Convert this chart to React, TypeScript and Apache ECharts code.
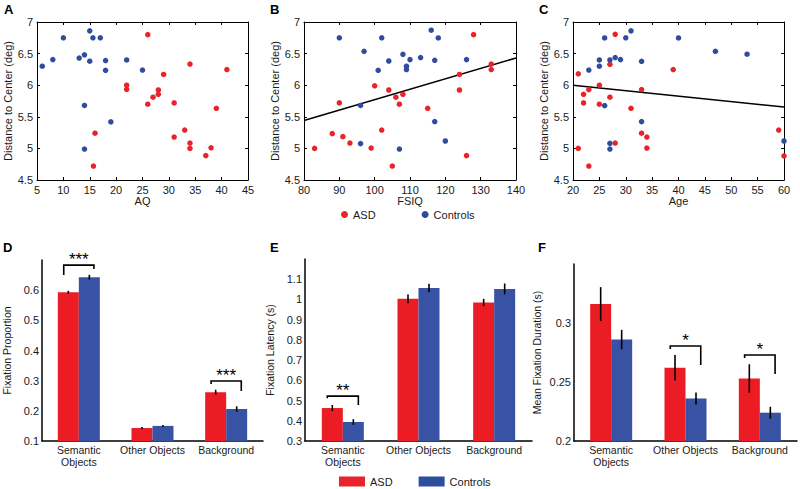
import React, { useEffect, useRef } from 'react';
import * as echarts from 'echarts';

// ---------- Data ----------
// Panel A: AQ vs distance to center
const aqAsd = [[22,6.0],[22,5.935],[16,5.24],[15.7,4.72],[26,6.80],[34,6.335],[41,6.247],[29,6.17],[28,5.925],[28,5.856],[27,5.81],[26,5.70],[31,5.72],[39,5.635],[33,5.29],[31,5.18],[34,5.085],[34,5.0],[38,5.01],[37,4.886]];
const aqCtrl = [[6,6.30],[8,6.405],[10,6.75],[15,6.86],[15.6,6.75],[17,6.75],[13,6.43],[14,6.48],[15,6.38],[18,6.39],[18,6.235],[22,6.40],[25,6.24],[14,5.68],[19,5.42],[14,4.99]];
// Panel B: FSIQ
const fsiqAsd = [[100,5.99],[104,5.924],[106,5.81],[107,5.70],[108,5.856],[90,5.72],[88,5.234],[91,5.186],[93,5.085],[102,5.29],[99,5.006],[83,5.0],[105,4.72],[128,6.80],[133,6.335],[133,6.247],[124,6.17],[124,5.924],[115,5.635],[126,4.886]];
const fsiqCtrl = [[90,6.75],[102,6.75],[97,6.536],[104,6.383],[101,6.236],[108,6.489],[110,6.405],[109,6.30],[109,6.247],[96,5.68],[96,5.076],[107,4.99],[116,6.87],[118,6.747],[113,6.437],[117,6.394],[126,6.405],[117,5.424],[120,5.117]];
const fsiqFit = [[80,5.44],[140,6.43]];
// Panel C: Age
const ageAsd = [[28,6.805],[27,6.33],[21,6.18],[39,6.247],[25,6.0],[23,5.93],[33,5.93],[22,5.856],[27,5.81],[22,5.72],[25,5.70],[31,5.635],[33,5.24],[34,5.18],[28,5.085],[34,5.006],[21,5.0],[23,4.72],[59,5.29],[60,4.88]];
const ageCtrl = [[26,6.747],[30,6.75],[31,6.86],[25,6.40],[25,6.30],[27,6.40],[28,6.437],[29,6.405],[33,6.378],[23,6.24],[26,5.677],[33,5.424],[27,5.08],[27,4.99],[40,6.747],[47,6.536],[53,6.49],[60,5.117]];
const ageFit = [[20,6.0],[60,5.655]];

// Bar panels
const categories = ['Semantic\nObjects', 'Other Objects', 'Background'];
const propAsd = [0.593, 0.143, 0.262];
const propAsdErr = [0.005, 0.003, 0.008];
const propCtrl = [0.643, 0.150, 0.206];
const propCtrlErr = [0.008, 0.003, 0.009];
const latAsd = [0.463, 1.003, 0.985];
const latAsdErr = [0.015, 0.022, 0.018];
const latCtrl = [0.394, 1.057, 1.052];
const latCtrlErr = [0.014, 0.021, 0.027];
const durAsd = [0.316, 0.262, 0.253];
const durAsdErr = [0.0144, 0.0108, 0.012];
const durCtrl = [0.286, 0.236, 0.224];
const durCtrlErr = [0.0082, 0.005, 0.005];

// Significance brackets: [category, top, left leg end, right leg end]
const propSig = [[0, 0.683, 0.650, 0.670], [2, 0.299, 0.289, 0.266]];
const propStars = ['***', '***'];
const latSig = [[0, 0.522, 0.512, 0.478]];
const latStars = ['**'];
const durSig = [[1, 0.2805, 0.278, 0.2644], [2, 0.2729, 0.2703, 0.2568]];
const durStars = ['*', '*'];

const RED = '#e8232b';
const BLUE = '#2f4d9f';
const BAR_RED = '#ec1c24';
const BAR_BLUE = '#3953a4';
const FONT = '"Liberation Sans", Arial, Helvetica, sans-serif';
const TXT = '#1a1a1a';
const BAR_W = 21;

export default function App() {
  const ref = useRef<HTMLDivElement>(null);
  useEffect(() => {
    if (!ref.current) return;
    const chart = echarts.init(ref.current, null, { renderer: 'svg' });

    const scatterGrids = [
      { left: 37, top: 22, width: 211, height: 158 },
      { left: 304, top: 22, width: 212, height: 158 },
      { left: 573, top: 22, width: 211, height: 158 },
    ];
    const barGrids = [
      { left: 37, top: 260, width: 226, height: 181 },
      { left: 305, top: 259, width: 227, height: 182 },
      { left: 574, top: 264, width: 223, height: 177 },
    ];
    const xRanges = [[5, 45, 5, 'AQ'], [80, 140, 10, 'FSIQ'], [20, 60, 5, 'Age']] as const;

    const axisLine = { show: true, onZero: false, lineStyle: { color: '#000', width: 1 } };
    const tickIn = { show: true, inside: true, length: 3, lineStyle: { color: '#000' } };
    const lbl = { color: TXT, fontSize: 11, fontFamily: FONT };

    const xAxis: any[] = [];
    const yAxis: any[] = [];
    // scatter bottom / left axes (0..2)
    xRanges.forEach((r, i) => {
      xAxis.push({ type: 'value', gridIndex: i, min: r[0], max: r[1], interval: r[2], position: 'bottom',
        name: r[3], nameLocation: 'middle', nameGap: 15, nameTextStyle: { color: TXT, fontSize: 11, fontFamily: FONT },
        axisLine, axisTick: tickIn, axisLabel: { ...lbl, margin: 4 }, splitLine: { show: false } });
      yAxis.push({ type: 'value', gridIndex: i, min: 4.5, max: 7, interval: 0.5, position: 'left',
        name: 'Distance to Center (deg)', nameLocation: 'middle', nameGap: 23, nameTextStyle: { color: TXT, fontSize: 11, fontFamily: FONT },
        axisLine, axisTick: tickIn, axisLabel: { ...lbl, margin: 4 }, splitLine: { show: false } });
    });
    // scatter top / right axes (3..5)
    xRanges.forEach((r, i) => {
      xAxis.push({ type: 'value', gridIndex: i, min: r[0], max: r[1], interval: r[2], position: 'top',
        axisLine, axisTick: tickIn, axisLabel: { show: false }, splitLine: { show: false } });
      yAxis.push({ type: 'value', gridIndex: i, min: 4.5, max: 7, interval: 0.5, position: 'right',
        axisLine, axisTick: tickIn, axisLabel: { show: false }, splitLine: { show: false } });
    });
    // bar axes (6..8)
    const barY = [
      { min: 0.1, max: 0.7, interval: 0.1, name: 'Fixation Proportion', hide: 0.65, gap: 30 },
      { min: 0.3, max: 1.2, interval: 0.1, name: 'Fixation Latency (s)', hide: 1.15, gap: 30 },
      { min: 0.2, max: 0.35, interval: 0.05, name: 'Mean Fixation Duration (s)', hide: 0.325, gap: 32 },
    ];
    barY.forEach((b, i) => {
      xAxis.push({ type: 'category', gridIndex: 3 + i, data: categories,
        axisLine: { show: true, lineStyle: { color: '#000', width: 1.5 } }, axisTick: { show: false },
        axisLabel: { color: TXT, fontSize: 10.5, fontFamily: FONT, margin: 3, lineHeight: 12, interval: 0 } });
      yAxis.push({ type: 'value', gridIndex: 3 + i, min: b.min, max: b.max, interval: b.interval,
        name: b.name, nameLocation: 'middle', nameGap: b.gap, nameTextStyle: { color: TXT, fontSize: 10.5, fontFamily: FONT },
        axisLine: { show: true, lineStyle: { color: '#000', width: 1.5 } }, axisTick: { show: false },
        axisLabel: { ...lbl, margin: 3, formatter: (v: number) => (v > b.hide ? '' : String(v)) },
        splitLine: { show: false } });
    });

    const scatterSets = [[aqAsd, aqCtrl, null], [fsiqAsd, fsiqCtrl, fsiqFit], [ageAsd, ageCtrl, ageFit]];
    const series: any[] = [];
    scatterSets.forEach((s, i) => {
      series.push({ type: 'scatter', name: 'ASD', xAxisIndex: i, yAxisIndex: i, data: s[0], symbolSize: 5.5,
        itemStyle: { color: RED, opacity: 1 }, clip: false });
      series.push({ type: 'scatter', name: 'Controls', xAxisIndex: i, yAxisIndex: i, data: s[1], symbolSize: 5.5,
        itemStyle: { color: BLUE, opacity: 1 }, clip: false });
      if (s[2]) {
        series.push({ type: 'line', xAxisIndex: i, yAxisIndex: i, data: s[2], symbol: 'none',
          lineStyle: { color: '#000', width: 1.5 }, z: 1 });
      }
    });

    const barSets = [
      [propAsd, propAsdErr, propCtrl, propCtrlErr, propSig, propStars],
      [latAsd, latAsdErr, latCtrl, latCtrlErr, latSig, latStars],
      [durAsd, durAsdErr, durCtrl, durCtrlErr, durSig, durStars],
    ] as any[];
    const errRender = (sign: number) => (params: any, api: any) => {
      const cat = api.value(0);
      const p1 = api.coord([cat, api.value(1)]);
      const p2 = api.coord([cat, api.value(2)]);
      const x = p1[0] + sign * BAR_W / 2;
      return { type: 'line', shape: { x1: x, y1: p1[1], x2: x, y2: p2[1] }, style: { stroke: '#000', lineWidth: 1.6 } };
    };
    barSets.forEach((b, i) => {
      const ax = 6 + i;
      series.push({ type: 'bar', name: 'ASD', xAxisIndex: ax, yAxisIndex: ax, data: b[0], barWidth: BAR_W, barGap: '0%',
        itemStyle: { color: BAR_RED } });
      series.push({ type: 'bar', name: 'Controls', xAxisIndex: ax, yAxisIndex: ax, data: b[2], barWidth: BAR_W, barGap: '0%',
        itemStyle: { color: BAR_BLUE } });
      series.push({ type: 'custom', xAxisIndex: ax, yAxisIndex: ax, z: 5, renderItem: errRender(-1),
        data: b[0].map((v: number, k: number) => [k, v - b[1][k], v + b[1][k]]) });
      series.push({ type: 'custom', xAxisIndex: ax, yAxisIndex: ax, z: 5, renderItem: errRender(1),
        data: b[2].map((v: number, k: number) => [k, v - b[3][k], v + b[3][k]]) });
      const stars = b[5];
      series.push({ type: 'custom', xAxisIndex: ax, yAxisIndex: ax, z: 5, data: b[4],
        renderItem: (params: any, api: any) => {
          const cat = api.value(0);
          const t = api.coord([cat, api.value(1)]);
          const l = api.coord([cat, api.value(2)]);
          const r = api.coord([cat, api.value(3)]);
          const hw = api.size([1, 0])[0] * 0.205;
          return { type: 'group', children: [
            { type: 'polyline', shape: { points: [[t[0] - hw, l[1]], [t[0] - hw, t[1]], [t[0] + hw, t[1]], [t[0] + hw, r[1]]] },
              style: { stroke: '#000', lineWidth: 1.6, fill: null } },
            { type: 'text', style: { text: stars[params.dataIndex], x: t[0], y: t[1] + 3, align: 'center', verticalAlign: 'bottom',
              fontSize: 17, fontFamily: FONT, fill: '#000' } },
          ] };
        } });
    });

    const titles = [['A', 4, 3], ['B', 270, 3], ['C', 539, 3], ['D', 3, 241], ['E', 270, 241], ['F', 538, 241]].map((t) => ({
      text: t[0], left: t[1], top: t[2], padding: 0,
      textStyle: { fontSize: 13, fontWeight: 'bold', color: '#000', fontFamily: FONT },
    }));

    chart.setOption({
      animation: false,
      textStyle: { fontFamily: FONT },
      title: titles,
      grid: [...scatterGrids, ...barGrids],
      xAxis, yAxis, series,
      legend: [
        { data: [{ name: 'ASD', icon: 'circle' }, { name: 'Controls', icon: 'circle' }], left: 341, top: 209,
          itemWidth: 7, itemHeight: 7, itemGap: 46, selectedMode: false, padding: 0,
          textStyle: { fontSize: 11, color: TXT, fontFamily: FONT } },
        { data: [{ name: 'ASD', icon: 'rect' }, { name: 'Controls', icon: 'rect' }], left: 339, top: 476,
          itemWidth: 26, itemHeight: 10, itemGap: 26, selectedMode: false, padding: 0,
          itemStyle: { borderWidth: 0 },
          textStyle: { fontSize: 11, color: TXT, fontFamily: FONT } },
      ],
    });
    return () => chart.dispose();
  }, []);
  return <div ref={ref} style={{ position: 'absolute', left: 0, top: 0, width: 800, height: 489, background: '#fff' }} />;
}
